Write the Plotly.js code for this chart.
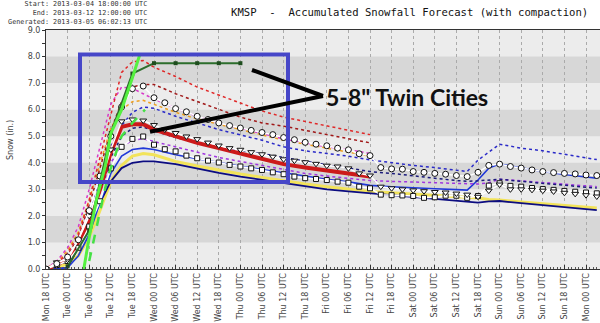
<!DOCTYPE html>
<html><head><meta charset="utf-8">
<script src="https://cdn.plot.ly/plotly-3.0.1.min.js"></script>
<style>html,body{margin:0;padding:0;background:#fff}#chart{width:600px;height:323px}</style>
</head><body><div id="chart"></div>
<script>
// ---- tick labels (6-hourly) ----
const tickLabels = ['Mon 18 UTC','Tue 00 UTC','Tue 06 UTC','Tue 12 UTC','Tue 18 UTC','Wed 00 UTC','Wed 06 UTC','Wed 12 UTC','Wed 18 UTC','Thu 00 UTC','Thu 06 UTC','Thu 12 UTC','Thu 18 UTC','Fri 00 UTC','Fri 06 UTC','Fri 12 UTC','Fri 18 UTC','Sat 00 UTC','Sat 06 UTC','Sat 12 UTC','Sat 18 UTC','Sun 00 UTC','Sun 06 UTC','Sun 12 UTC','Sun 18 UTC','Mon 00 UTC'];
const tickHours = [0,6,12,18,24,30,36,42,48,54,60,66,72,78,84,90,96,102,108,114,120,126,132,138,144,150];

// ---- forecast hours since 2013-03-04 18 UTC ----
const hours3 = [0,3,6,9,12,15,18,21,24,27,30,33,36,39,42,45,48,51,54,57,60,63,66,69,72,75,78,81,84,87,90,93,96,99,102,105,108,111,114,117,120,123,126,129,132,135,138,141,144,147,150,153];
const hoursShort = [0,3,6,9,12,15,18,21,24,27,30,36,42,48,54,60,66,72,78,84,90];
const hoursLong = [0,3,6,9,12,15,18,21,24,27,30,36,42,48,54,60,66,72,78,84,90,96,102,108,114,117,120,123,126,132,138,144,150,153];
const hoursMean = [6,12,18,24,30,36,42,48,54];
const hoursLime = [10.5,12,14,16.5,18,21,24,26];
const hoursLimeDash = [12,14,17,21,24,27.5];

// ---- snowfall (in.) ----
const circles = [0,0.2,0.45,1.1,2.2,3.5,5.0,6.1,6.79,6.89,6.45,6.26,6.04,5.92,5.75,5.63,5.5,5.4,5.31,5.22,5.14,5.06,4.95,4.87,4.77,4.7,4.64,4.55,4.49,4.34,4.27,3.82,3.77,3.76,3.67,3.64,3.6,3.57,3.52,3.48,3.64,3.9,3.95,3.86,3.8,3.73,3.67,3.63,3.6,3.58,3.54,3.52];
const triangles = [0,0.25,0.35,1.1,2.0,3.2,4.5,5.56,5.63,5.59,5.42,5.25,5.12,4.99,4.89,4.76,4.65,4.55,4.49,4.4,4.32,4.23,4.13,4.08,4.02,3.96,3.89,3.86,3.79,3.6,3.52,3.1,3.04,3.0,2.96,2.93,2.9,2.88,2.84,2.8,2.72,2.95,3.18,3.0,3.0,2.98,2.95,2.92,2.87,2.83,2.78,2.73];
const squares = [0,0.15,0.3,0.8,1.6,2.55,3.79,4.6,4.9,4.99,4.68,4.51,4.43,4.27,4.17,4.08,4.01,3.92,3.86,3.79,3.73,3.64,3.57,3.48,3.42,3.39,3.35,3.29,3.25,3.1,3.04,2.8,2.78,2.77,2.75,2.68,2.7,2.76,2.76,2.68,2.75,3.14,3.23,3.13,3.1,3.05,3.01,2.98,2.94,2.91,2.88,2.85];

const redDotted = [0,0.2,0.6,1.3,2.6,4.2,5.9,7.4,7.8,7.85,7.6,7.25,6.85,6.55,6.25,5.95,5.72,5.56,5.39,5.23,5.06];
const darkRedDotted = [0,0.15,0.5,1.2,2.4,3.8,5.2,6.3,6.85,6.95,6.95,6.6,6.3,6.0,5.72,5.5,5.38,5.22,5.07,4.9,4.75];
const magentaDotted = [0,0.3,0.8,1.6,3.0,4.6,6.2,6.85,6.8,6.6,6.4,6.05,5.75,5.5,5.3,5.1,4.9,4.75,4.6,4.5,4.35];
const orangeDotted = [0,0.25,0.7,1.4,2.6,4.0,5.3,6.0,6.3,6.35,6.2,5.9,5.65,5.45,5.25,5.05,4.85,4.7,4.55,4.4,4.25];
const redThick = [0,0.15,0.4,0.9,1.8,3.0,4.4,5.35,5.45,5.45,5.25,5.0,4.75,4.55,4.35,4.15,3.95,3.82,3.7,3.58,3.48];

const blueDotted = [0,0.2,0.5,1.1,2.2,3.4,4.6,5.4,5.9,6.1,6.05,5.75,5.5,5.25,5.05,4.85,4.6,4.45,4.35,4.25,4.11,4.0,3.9,3.82,3.72,3.67,4.1,4.4,4.7,4.55,4.45,4.32,4.2,4.12];
const navyDotted = [0,0.1,0.3,0.8,1.7,2.9,4.2,5.0,5.3,5.35,5.2,4.95,4.75,4.57,4.45,4.35,4.2,4.05,3.92,3.8,3.67,3.6,3.5,3.42,3.33,3.3,3.32,3.35,3.38,3.3,3.22,3.15,3.08,3.05];
const purpleDotted = [0,0.1,0.4,0.9,1.8,2.9,4.0,4.6,4.85,4.9,4.8,4.6,4.4,4.2,4.05,3.9,3.75,3.6,3.5,3.42,3.33,3.3,3.28,3.26,3.24,3.22,3.2,3.25,3.38,3.32,3.25,3.18,3.12,3.1];
const blueSolid = [0,0,0.05,0.5,1.3,2.5,3.6,4.25,4.5,4.55,4.5,4.3,4.15,4.0,3.87,3.75,3.62,3.5,3.38,3.28,3.15,3.1,3.05,3.02,2.99,2.97,3.35,3.8,3.95,3.8,3.67,3.56,3.46,3.42];
const yellowSolid = [0,0.05,0.2,0.5,1.2,2.2,3.3,3.9,4.25,4.35,4.3,4.05,3.88,3.72,3.58,3.45,3.32,3.2,3.1,3.0,2.92,2.87,2.82,2.77,2.72,2.7,2.67,2.62,2.6,2.52,2.45,2.38,2.32,2.3];
const navySolid = [0,0,0.05,0.8,1.6,2.5,3.3,3.8,4.0,4.05,4.05,3.95,3.78,3.62,3.48,3.36,3.22,3.1,3.0,2.92,2.85,2.77,2.7,2.64,2.57,2.54,2.5,2.55,2.56,2.48,2.4,2.32,2.25,2.22];

const meanGreen = [0.1,1.45,5.12,7.36,7.75,7.75,7.75,7.75,7.75];
const limeSolid = [0,1.2,2.6,3.9,5.1,6.0,7.2,8.05];
const limeDashed = [0.3,1.5,3.4,5.0,5.5,6.0];

const headerLines = ['\u00a0\u00a0\u00a0\u00a0\u00a0Start: 2013-03-04 18:00:00 UTC','\u00a0\u00a0\u00a0\u00a0\u00a0\u00a0\u00a0End: 2013-03-12 12:00:00 UTC','\u00a0Generated: 2013-03-05 06:02:13 UTC'];
const chartTitle = 'KMSP \u00a0-\u00a0 Accumulated Snowfall Forecast (with compaction)';
const calloutText = '5-8" Twin Cities';

// ---- traces ----
function line(x, y, color, width, dash) {
  return {x: x, y: y, type: 'scatter', mode: 'lines', line: {color: color, width: width, dash: dash || 'solid'}, hoverinfo: 'skip'};
}
function marked(x, y, symbol, size) {
  return {x: x, y: y, type: 'scatter', mode: 'lines+markers', line: {color: '#ffffff', width: 1.5},
    marker: {symbol: symbol, size: size, color: '#ffffff', line: {color: '#111', width: 1}}, hoverinfo: 'skip'};
}
const traces = [
  line(hoursLong, yellowSolid, '#f2e35a', 3),
  line(hoursLong, navySolid, '#0c0c80', 1.8),
  line(hoursLong, blueSolid, '#2038d8', 1.6),
  line(hoursLong, purpleDotted, '#a035e0', 1.5, 'dot'),
  line(hoursLong, navyDotted, '#1a1a7a', 1.5, 'dot'),
  line(hoursLong, blueDotted, '#2a2ac8', 1.5, 'dot'),
  line(hoursShort, orangeDotted, '#f0a020', 1.5, 'dot'),
  line(hoursShort, magentaDotted, '#d838c8', 1.5, 'dot'),
  line(hoursShort, darkRedDotted, '#a01818', 1.5, 'dot'),
  line(hoursShort, redDotted, '#e02828', 1.5, 'dot'),
  line(hoursShort, redThick, '#cc1a1a', 4),
  marked(hours3, squares, 'square', 5),
  marked(hours3, triangles, 'triangle-down', 6),
  marked(hours3, circles, 'circle', 6),
  {x: hoursMean, y: meanGreen, type: 'scatter', mode: 'lines+markers', line: {color: '#2c6e2c', width: 2},
   marker: {symbol: 'square', size: 4, color: '#1e4d1e'}, hoverinfo: 'skip'},
  line(hoursLimeDash, limeDashed, '#44e044', 2.5, 'dash'),
  line(hoursLime, limeSolid, '#55f040', 3)
];

// pixel -> paper helpers (plot area: x 46..600, y 30..269)
const L = 46, T = 30, W = 554, H = 239;
const px = v => (v - L) / W;
const py = v => (T + H - v) / H;

const shapes = [];
[1, 3, 5, 7].forEach(b => shapes.push({type: 'rect', xref: 'paper', yref: 'y', x0: 0, x1: 1, y0: b, y1: b + 1,
  fillcolor: '#d7d7d7', line: {width: 0}, layer: 'below'}));
shapes.push({type: 'rect', xref: 'paper', yref: 'paper', x0: px(80), x1: px(288), y0: py(182), y1: py(54.5),
  line: {color: '#4646c8', width: 4}, fillcolor: 'rgba(0,0,0,0)'});
shapes.push({type: 'line', xref: 'paper', yref: 'paper', x0: px(252), y0: py(70), x1: px(323), y1: py(96), line: {color: '#000', width: 4}});
shapes.push({type: 'line', xref: 'paper', yref: 'paper', x0: px(150), y0: py(131.7), x1: px(323), y1: py(96), line: {color: '#000', width: 4}});

const annotations = [];
annotations.push({xref: 'paper', yref: 'paper', x: px(2), y: py(12.7), xanchor: 'left', yanchor: 'middle', align: 'left',
  text: headerLines.join('<br>'), showarrow: false, font: {family: 'DejaVu Sans Mono', size: 6.8, color: '#333'}});
annotations.push({xref: 'paper', yref: 'paper', x: px(10), y: py(140), text: 'Snow (in.)', textangle: -90, showarrow: false,
  xanchor: 'center', yanchor: 'middle', font: {family: 'DejaVu Sans', size: 8, color: '#444'}});
annotations.push({xref: 'paper', yref: 'paper', x: px(324), y: py(97), xanchor: 'left', yanchor: 'middle', text: '<b>' + calloutText + '</b>',
  showarrow: false, font: {family: 'Lato', size: 23, color: '#111'}});

const layout = {
  width: 600, height: 323,
  margin: {l: L, r: 0, t: T, b: 323 - T - H},
  paper_bgcolor: '#ffffff', plot_bgcolor: '#ececec',
  showlegend: false, hovermode: false,
  title: {text: chartTitle, x: 231 / 600, xanchor: 'left', xref: 'container', y: 1 - 12 / 323, yanchor: 'middle',
    font: {family: 'DejaVu Sans Mono', size: 10.6, color: '#111'}},
  xaxis: {range: [0, W / 3.6], tickmode: 'array', tickvals: tickHours, ticktext: tickLabels, tickangle: -90,
    tickfont: {family: 'DejaVu Sans', size: 8, color: '#444'},
    showgrid: true, gridcolor: '#aaaaaa', griddash: 'dot', gridwidth: 1,
    ticks: 'inside', ticklen: 4, tickcolor: '#333',
    minor: {tickmode: 'linear', tick0: 0, dtick: 1, ticks: 'inside', ticklen: 2, tickcolor: '#555', showgrid: false},
    showline: true, linecolor: '#333', linewidth: 1, mirror: true, zeroline: false, fixedrange: true},
  yaxis: {range: [0, 9], dtick: 1, tick0: 0, tickformat: '.1f', ticks: 'outside', ticklen: 3, tickcolor: '#333',
    minor: {dtick: 0.5, ticks: 'outside', ticklen: 3, tickcolor: '#333', showgrid: false},
    tickfont: {family: 'DejaVu Sans', size: 8, color: '#444'},
    showgrid: false, showline: true, linecolor: '#333', linewidth: 1, mirror: true, zeroline: false, fixedrange: true},
  shapes: shapes,
  annotations: annotations
};

Plotly.newPlot('chart', traces, layout, {staticPlot: true, displayModeBar: false});
</script>
</body></html>
